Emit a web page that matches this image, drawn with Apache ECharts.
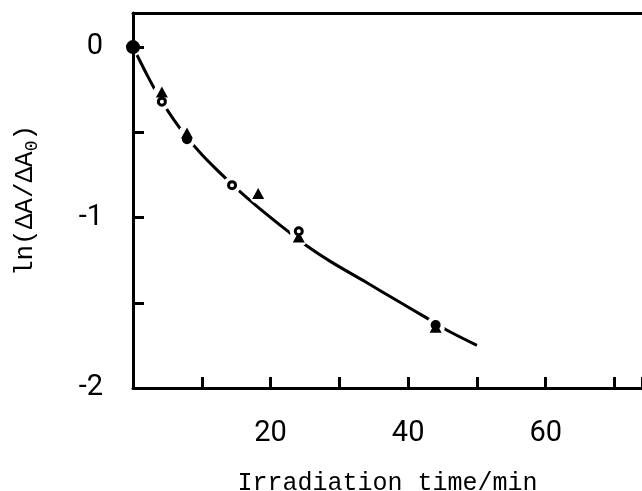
<!DOCTYPE html>
<html>
<head>
<meta charset="utf-8">
<script src="https://cdn.jsdelivr.net/npm/echarts@6/dist/echarts.min.js"></script>
<style>
  html, body { margin: 0; padding: 0; background: #fff; }
  #chart { width: 642px; height: 491px; }
</style>
</head>
<body>
<div id="chart"></div>
<script>
// 拟合曲线
const curveX = [0, 1, 2, 3.2, 4.2, 6, 7.85, 10, 12.2, 15.6, 18.2, 22.5, 25.4, 28.8, 33.9, 38.5, 42.3, 45.6, 50];
const curveY = [0, -0.08, -0.16, -0.25, -0.32, -0.43, -0.53, -0.63, -0.72, -0.85, -0.94, -1.08, -1.17, -1.26, -1.38, -1.49, -1.58, -1.66, -1.75];

// 测量点
const openCircles = [[4.2, -0.32], [14.4, -0.81], [24.1, -1.08]];
const triangles = [[4.2, -0.27], [7.85, -0.51], [18.2, -0.865], [24.1, -1.12], [44, -1.65]];
const filledCircles = [[7.85, -0.54], [44, -1.63]];
const origin = [[0, 0]];

const xLabels = [20, 40, 60];
const yLabels = [0, -1, -2];

const numFont = 'Roboto, "Liberation Sans Narrow", sans-serif';
const monoFont = '"Liberation Mono", "DejaVu Sans Mono", monospace';

const curve = curveX.map((x, i) => [x, curveY[i]]);
// white discs that open small gaps in the curve round every marker
const gaps = [].concat(origin, openCircles, triangles, filledCircles);

const chart = echarts.init(document.getElementById('chart'));

chart.setOption({
  animation: false,
  grid: { left: 133, right: 0, top: 13, bottom: 103, outerBoundsMode: 'none', containLabel: false },
  xAxis: [{
    type: 'value',
    min: 0,
    max: 74,
    interval: 10,
    name: 'Irradiation time/min',
    nameLocation: 'middle',
    nameGap: 83,
    nameTextStyle: { fontFamily: monoFont, fontSize: 25, color: '#000' },
    axisLine: { onZero: false, lineStyle: { color: '#000', width: 3 } },
    axisTick: { inside: true, length: 11, lineStyle: { color: '#000', width: 3 } },
    splitLine: { show: false },
    axisLabel: {
      margin: 31,
      fontFamily: numFont,
      fontSize: 29,
      color: '#000',
      formatter: v => (xLabels.indexOf(v) >= 0 ? String(v) : '')
    }
  }, {
    type: 'value',
    position: 'top',
    min: 0,
    max: 74,
    axisLine: { show: true, onZero: false, lineStyle: { color: '#000', width: 3 } },
    axisTick: { show: false },
    axisLabel: { show: false },
    splitLine: { show: false }
  }],
  yAxis: {
    type: 'value',
    min: -2,
    max: 0.2,
    interval: 0.5,
    z: 5,
    name: '{a|ln(ΔA/ΔA}{s|0}{a|)}',
    nameLocation: 'middle',
    nameGap: 92,
    nameTextStyle: {
      color: '#000',
      rich: {
        a: { fontFamily: monoFont, fontSize: 26, color: '#000' },
        s: { fontFamily: monoFont, fontSize: 18, color: '#000', padding: [14, 0, 0, 0] }
      }
    },
    axisLine: { onZero: false, lineStyle: { color: '#000', width: 3 } },
    axisTick: { inside: true, length: 11, lineStyle: { color: '#000', width: 3 } },
    splitLine: { show: false },
    axisLabel: {
      margin: 30,
      fontFamily: numFont,
      fontSize: 29,
      color: '#000',
      formatter: v => (yLabels.indexOf(v) >= 0 ? String(v) : '')
    }
  },
  series: [
    {
      type: 'line',
      data: curve,
      smooth: 0.3,
      showSymbol: false,
      clip: false,
      z: 1,
      lineStyle: { color: '#000', width: 3 }
    },
    {
      type: 'scatter',
      data: gaps,
      symbol: 'circle',
      symbolSize: 18,
      clip: false,
      z: 2,
      itemStyle: { color: '#fff', opacity: 1 }
    },
    {
      type: 'scatter',
      data: triangles,
      symbol: 'triangle',
      symbolSize: [12, 11],
      symbolOffset: [0, -1],
      clip: false,
      z: 3,
      itemStyle: { color: '#000', opacity: 1 }
    },
    {
      type: 'scatter',
      data: filledCircles,
      symbol: 'circle',
      symbolSize: 10,
      clip: false,
      z: 3,
      itemStyle: { color: '#000', opacity: 1 }
    },
    {
      type: 'scatter',
      data: openCircles,
      symbol: 'circle',
      symbolSize: 7,
      clip: false,
      z: 4,
      itemStyle: { color: '#fff', borderColor: '#000', borderWidth: 3, opacity: 1 }
    },
    {
      type: 'scatter',
      data: origin,
      symbol: 'circle',
      symbolSize: 14,
      clip: false,
      z: 4,
      itemStyle: { color: '#000', opacity: 1 }
    }
  ]
});
</script>
</body>
</html>
